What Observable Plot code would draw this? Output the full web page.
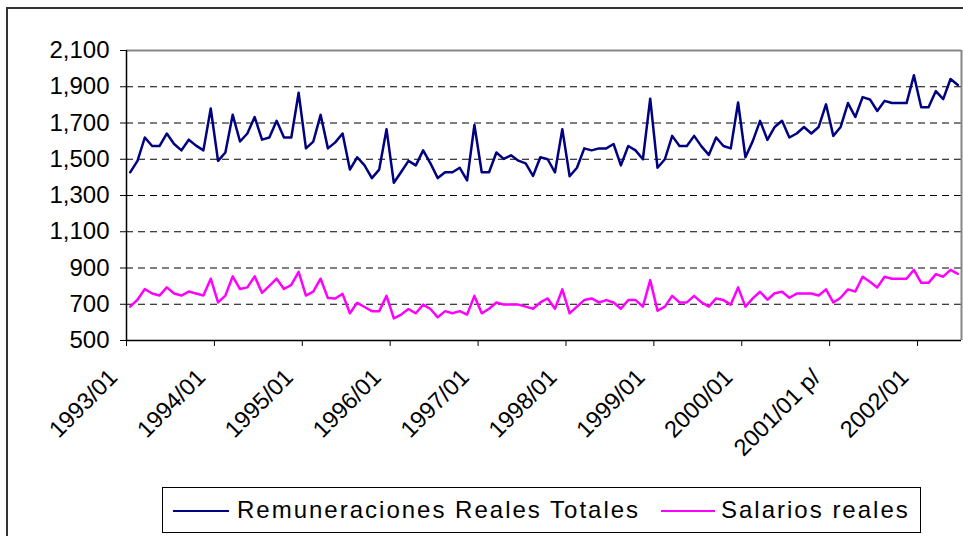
<!DOCTYPE html>
<html>
<head>
<meta charset="utf-8">
<script src="https://cdn.jsdelivr.net/npm/d3@7"></script>
<script src="https://cdn.jsdelivr.net/npm/@observablehq/plot@0.6"></script>
<style>
  body { margin: 0; background: #fff; }
  #wrap { position: relative; width: 963px; height: 536px; overflow: hidden; background: #fff; font-family: "Liberation Sans", Arial, sans-serif; }
  #outer { position: absolute; left: 6px; top: 7px; width: 1200px; height: 800px; border-left: 2px solid #333; border-top: 2px solid #333; }
  #chart { position: absolute; left: 0; top: 0; }
  #legend { position: absolute; left: 162px; top: 487px; width: 757px; height: 44px; border: 1px solid #000; background: #fff; }
  #legend .sw { position: absolute; top: 22px; height: 2px; }
  #legend .lt { position: absolute; top: 0; line-height: 44px; font-size: 24px; letter-spacing: 2px; color: #000; white-space: nowrap; }
</style>
</head>
<body>
<div id="wrap">
  <div id="outer"></div>
  <div id="chart"></div>
  <div id="legend"></div>
</div>
<script>
// Series (monthly, 1993/01 .. 2002/06)
const remuneraciones = [
  1428, 1491, 1620, 1573, 1573, 1642, 1584, 1549, 1608, 1575, 1549, 1780,
  1491, 1537, 1745, 1598, 1642, 1733, 1608, 1620, 1712, 1620, 1620, 1867,
  1560, 1597, 1745, 1560, 1593, 1642, 1443, 1511, 1466, 1396, 1443, 1666,
  1370, 1430, 1491, 1466, 1549, 1477, 1396, 1428, 1428, 1453, 1383, 1689,
  1428, 1428, 1537, 1502, 1522, 1492, 1477, 1408, 1511, 1500, 1428, 1666,
  1406, 1453, 1560, 1549, 1560, 1560, 1584, 1466, 1573, 1549, 1500, 1834,
  1453, 1500, 1629, 1573, 1573, 1629, 1571, 1524, 1620, 1573, 1560, 1813,
  1511, 1600, 1712, 1607, 1678, 1712, 1620, 1642, 1678, 1642, 1678, 1803,
  1629, 1678, 1810, 1733, 1843, 1830, 1766, 1822, 1810, 1810, 1810, 1963,
  1787, 1787, 1876, 1832, 1943, 1910
];
const salarios = [
  687, 725, 784, 759, 748, 793, 759, 748, 770, 759, 748, 841,
  710, 748, 854, 784, 793, 854, 763, 801, 841, 784, 807, 879,
  748, 770, 841, 734, 732, 757, 650, 708, 685, 662, 662, 746,
  622, 643, 674, 650, 698, 674, 628, 662, 650, 662, 643, 746,
  650, 675, 710, 698, 698, 698, 687, 675, 710, 732, 675, 782,
  650, 687, 723, 732, 710, 723, 710, 675, 723, 723, 687, 833,
  664, 687, 746, 710, 710, 746, 710, 687, 732, 723, 698, 793,
  687, 732, 769, 725, 761, 769, 736, 759, 759, 759, 748, 782,
  710, 736, 782, 770, 852, 824, 793, 852, 841, 841, 841, 890,
  818, 818, 866, 852, 890, 868
];
const xTickLabels = ["1993/01", "1994/01", "1995/01", "1996/01", "1997/01", "1998/01", "1999/01", "2000/01", "2001/01 p/", "2002/01"];
const yTicks = [500, 700, 900, 1100, 1300, 1500, 1700, 1900, 2100];
const seriesNames = ["Remuneraciones Reales Totales", "Salarios reales"];
const seriesColors = ["#000080", "#FF00FF"];

const n = remuneraciones.length;
const remData = remuneraciones.map((v, i) => ({i: i + 0.5, v}));
const salData = salarios.map((v, i) => ({i: i + 0.5, v}));
const xTickPos = xTickLabels.map((_, k) => k * 12);
const gridVals = yTicks.slice(1, -1);

const chart = Plot.plot({
  width: 963,
  height: 480,
  marginTop: 50,
  marginLeft: 126,
  marginRight: 2,
  marginBottom: 140,
  x: {domain: [0, n], axis: null},
  y: {domain: [500, 2100], axis: null},
  style: {fontFamily: "'Liberation Sans', Arial, sans-serif", background: "transparent", overflow: "visible"},
  marks: [
    Plot.ruleY(gridVals, {stroke: "#000", strokeWidth: 1, strokeDasharray: "7,5"}),
    Plot.ruleY([2100], {stroke: "#858585", strokeWidth: 2}),
    Plot.ruleX([n], {stroke: "#858585", strokeWidth: 2}),
    Plot.axisY({ticks: yTicks, tickFormat: d3.format(","), tickSize: 6, tickPadding: 11, fontSize: 24, stroke: "#000", label: null}),
    Plot.axisX({ticks: xTickPos, tickSize: 6, tickFormat: () => "", stroke: "#000", label: null}),
    Plot.text(xTickPos, {x: d => d, frameAnchor: "bottom", text: (d, k) => xTickLabels[k], rotate: -45, textAnchor: "end", lineAnchor: "middle", dx: -13, dy: 33, fontSize: 23.5, fill: "#000"}),
    Plot.ruleX([0], {stroke: "#000", strokeWidth: 1.5}),
    Plot.ruleY([500], {stroke: "#000", strokeWidth: 1.5}),
    Plot.line(remData, {x: "i", y: "v", stroke: seriesColors[0], strokeWidth: 2.5}),
    Plot.line(salData, {x: "i", y: "v", stroke: seriesColors[1], strokeWidth: 2.5})
  ]
});
document.getElementById("chart").appendChild(chart);

// Legend
const legend = document.getElementById("legend");
const items = [
  {sw: 10, swW: 56, tx: 74},
  {sw: 498, swW: 54, tx: 558}
];
items.forEach((it, k) => {
  const s = document.createElement("div");
  s.className = "sw";
  s.style.left = it.sw + "px";
  s.style.width = it.swW + "px";
  s.style.background = seriesColors[k];
  legend.appendChild(s);
  const t = document.createElement("div");
  t.className = "lt";
  t.style.left = it.tx + "px";
  t.textContent = seriesNames[k];
  legend.appendChild(t);
});
</script>
</body>
</html>
